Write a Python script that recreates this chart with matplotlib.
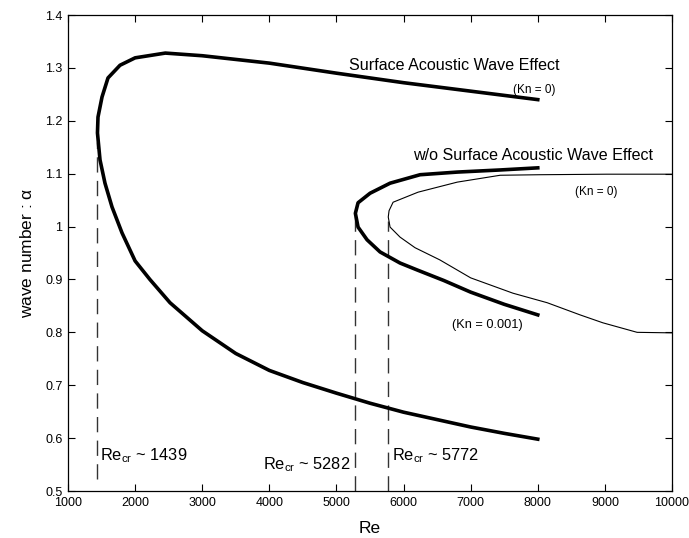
import matplotlib
matplotlib.use("Agg")
import matplotlib.pyplot as plt

plt.rcParams['font.family'] = ['Liberation Sans', 'DejaVu Sans']
plt.rcParams['mathtext.default'] = 'regular'

# SAW effect curve (Kn = 0): upper branch from Re=8000 to nose, then lower branch
saw_re = [8000, 7000, 6000, 5000, 4000, 3000, 2450, 2000, 1775, 1596, 1507, 1447, 1439,
          1477, 1551, 1656, 1805, 2000, 2220, 2520, 3000, 3500, 4000, 4500, 5000,
          5500, 6000, 6500, 7000, 7500, 8000]
saw_alpha = [1.240, 1.256, 1.272, 1.290, 1.309, 1.323, 1.328, 1.319, 1.305, 1.281, 1.245,
             1.207, 1.177, 1.126, 1.082, 1.037, 0.988, 0.935, 0.900, 0.856, 0.803,
             0.760, 0.728, 0.705, 0.685, 0.666, 0.649, 0.635, 0.621, 0.609, 0.598]

# w/o SAW, Kn = 0.001 (thick)
kn001_re = [8000, 7440, 6800, 6246, 5799, 5501, 5322, 5282, 5322, 5456, 5650, 5948,
            6201, 6600, 7000, 7500, 8000]
kn001_alpha = [1.111, 1.107, 1.103, 1.098, 1.082, 1.063, 1.045, 1.025, 0.999, 0.975,
               0.952, 0.931, 0.918, 0.898, 0.876, 0.853, 0.833]

# w/o SAW, Kn = 0 (thin)
kn0_re = [10000, 9030, 8030, 7440, 6800, 6216, 5844, 5784, 5772, 5799, 5948, 6171,
          6540, 7000, 7630, 8140, 8630, 8970, 9480, 10000]
kn0_alpha = [1.099, 1.099, 1.098, 1.097, 1.084, 1.065, 1.046, 1.030, 1.018, 0.999, 0.980,
             0.960, 0.937, 0.903, 0.874, 0.856, 0.833, 0.818, 0.800, 0.799]

# critical Reynolds numbers and dashed-line extents
re_cr = [1439, 5282, 5772]
dash_top = [1.16, 1.02, 1.01]
dash_bottom = [0.523, 0.5, 0.5]

xticks = [1000, 2000, 3000, 4000, 5000, 6000, 7000, 8000, 9000, 10000]
yticks = [0.5, 0.6, 0.7, 0.8, 0.9, 1.0, 1.1, 1.2, 1.3, 1.4]
yticklabels = ['0.5', '0.6', '0.7', '0.8', '0.9', '1', '1.1', '1.2', '1.3', '1.4']

fig = plt.figure(figsize=(6.89, 5.38), dpi=100)
ax = fig.add_axes([68/689, 1-491/538, (672-68)/689, (491-15)/538])

for xc, yt, yb in zip(re_cr, dash_top, dash_bottom):
    ax.plot([xc, xc], [yb, yt], color='#333333', lw=1.0, dashes=(11, 6))

ax.plot(saw_re, saw_alpha, color='black', lw=2.6, solid_joinstyle='round')
ax.plot(kn001_re, kn001_alpha, color='black', lw=2.6, solid_joinstyle='round')
ax.plot(kn0_re, kn0_alpha, color='black', lw=0.8)

ax.set_xlim(1000, 10000)
ax.set_ylim(0.5, 1.4)
ax.set_xticks(xticks)
ax.set_xticklabels([str(t) for t in xticks])
ax.set_yticks(yticks)
ax.set_yticklabels(yticklabels)
ax.tick_params(direction='in', length=5, width=0.8, top=True, right=True,
               labelsize=9)
ax.tick_params(axis='x', pad=4)
ax.tick_params(axis='y', pad=4)
for s in ax.spines.values():
    s.set_linewidth(0.9)

ax.set_xlabel('Re', fontsize=12.5, labelpad=9)
ax.set_ylabel('wave number : $\\alpha$', fontsize=12.5, labelpad=7)

ax.text(5180, 1.305, 'Surface Acoustic Wave Effect', fontsize=11.6, va='center', ha='left')
ax.text(7630, 1.258, '(Kn = 0)', fontsize=8.5, va='center', ha='left')
ax.text(6140, 1.135, 'w/o Surface Acoustic Wave Effect', fontsize=11.6, va='center', ha='left')
ax.text(8560, 1.066, '(Kn = 0)', fontsize=8.5, va='center', ha='left')
ax.text(6720, 0.814, '(Kn = 0.001)', fontsize=9.2, va='center', ha='left')

ax.text(1480, 0.566, 'Re$_{cr}$ ~ 1439', fontsize=11.8, va='center', ha='left')
ax.text(3900, 0.549, 'Re$_{cr}$ ~ 5282', fontsize=11.8, va='center', ha='left')
ax.text(5830, 0.566, 'Re$_{cr}$ ~ 5772', fontsize=11.8, va='center', ha='left')

fig.savefig('out.png', dpi=100)
